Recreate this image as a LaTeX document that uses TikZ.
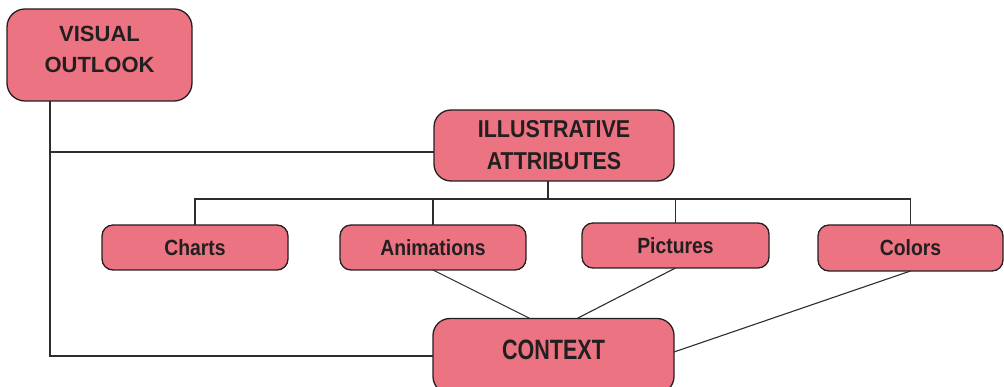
\documentclass[tikz,border=0pt]{standalone}
\usepackage{fontspec}
\setmainfont{Liberation Sans}
\newfontfamily\fcond[FakeStretch=0.88]{Liberation Sans}
\newfontfamily\fctx[FakeStretch=0.77]{Liberation Sans}
\usetikzlibrary{calc}
\definecolor{boxfill}{RGB}{236,116,130}
\definecolor{ink}{RGB}{35,31,32}
\definecolor{wire}{RGB}{45,45,45}
\tikzset{
  box/.style={draw=ink, fill=boxfill, line width=1.3pt, rounded corners=#1,
    inner sep=0pt, outer sep=0pt, text=ink, align=center},
  box/.default=11pt,
  link/.style={draw=wire, line width=1.1pt},
}
\begin{document}
\begin{tikzpicture}[x=1pt, y=-1pt]
\useasboundingbox (0,0) rectangle (1004,387);
\clip (0,0) rectangle (1004,387);

% top-level boxes
\node[box=18pt, minimum width=185pt, minimum height=92pt, text depth=11pt,
      font=\fontsize{22}{31}\selectfont\bfseries] (vo) at (99.5,55) {VISUAL\\OUTLOOK};
\node[box=17pt, minimum width=240pt, minimum height=71pt,
      font=\fcond\fontsize{24.4}{32}\selectfont\bfseries] (ia) at (554,145.5) {ILLUSTRATIVE\\ATTRIBUTES};

% attribute boxes
\node[box, minimum width=186pt, minimum height=45pt,
      font=\fcond\fontsize{22}{26}\selectfont\bfseries] (charts) at (195,247.5) {Charts};
\node[box, minimum width=186pt, minimum height=45pt,
      font=\fcond\fontsize{22}{26}\selectfont\bfseries] (anim) at (433,247.5) {Animations};
\node[box, minimum width=187pt, minimum height=45pt,
      font=\fcond\fontsize{22}{26}\selectfont\bfseries] (pict) at (675.5,245.5) {Pictures};
\node[box, minimum width=185pt, minimum height=46pt,
      font=\fcond\fontsize{22}{26}\selectfont\bfseries] (colors) at (910.5,248) {Colors};

% context box
\node[box=17pt, minimum width=241pt, minimum height=75pt, text depth=12pt,
      font=\fctx\fontsize{28}{32}\selectfont\bfseries] (ctx) at (553.5,356) {CONTEXT};

% connector anchor points
\coordinate (vline) at (50,152);
\coordinate (bus) at (548,199);

% visual outlook to illustrative attributes and context
\draw[link] (vo.south -| vline) |- (ctx.west);
\draw[link] (vline) -- (ia.west |- vline);

% attribute bus
\draw[link] (ia.south -| bus) -- (bus);
\draw[link] (charts.north) -- (charts.north |- bus) -- (colors.north |- bus) -- (colors.north);
\draw[link] (anim.north) -- (anim.north |- bus);
\draw[link] (pict.north) -- (pict.north |- bus);

% links into the context box
\draw[link] (anim.south) -- ($(ctx.north)+(-23.5,0)$);
\draw[link] (pict.south) -- ($(ctx.north)+(23.5,0)$);
\draw[link] (colors.south) -- ($(ctx.east)+(0,-4)$);
\end{tikzpicture}
\end{document}
